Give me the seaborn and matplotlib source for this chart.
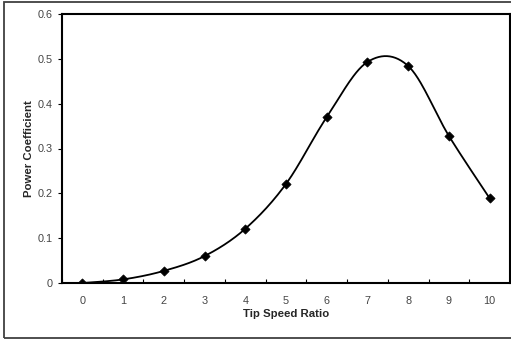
import numpy as np
import pandas as pd
import matplotlib
matplotlib.use("Agg")
import matplotlib.pyplot as plt
import seaborn as sns
from matplotlib.patches import Rectangle

# Data
tip_speed_ratio = [0, 1, 2, 3, 4, 5, 6, 7, 8, 9, 10]
power_coefficient = [0.0, 0.008, 0.027, 0.060, 0.121, 0.221, 0.370, 0.493, 0.484, 0.328, 0.189]
y_ticks = [0, 0.1, 0.2, 0.3, 0.4, 0.5, 0.6]
y_tick_labels = ["0", "0.1", "0.2", "0.3", "0.4", "0.5", "0.6"]


def smooth_line(x, y, steps=30):
    # Excel-style smoothed line: cubic Bezier with Catmull-Rom control points
    x = np.asarray(x, dtype=float)
    y = np.asarray(y, dtype=float)
    n = len(x)
    xs, ys = [], []
    t = np.linspace(0, 1, steps)
    for i in range(n - 1):
        p0 = np.array([x[max(i - 1, 0)], y[max(i - 1, 0)]])
        p1 = np.array([x[i], y[i]])
        p2 = np.array([x[i + 1], y[i + 1]])
        p3 = np.array([x[min(i + 2, n - 1)], y[min(i + 2, n - 1)]])
        c1 = p1 + (p2 - p0) / 6.0
        c2 = p2 - (p3 - p1) / 6.0
        pts = ((1 - t) ** 3)[:, None] * p1 + (3 * (1 - t) ** 2 * t)[:, None] * c1 \
            + (3 * (1 - t) * t ** 2)[:, None] * c2 + (t ** 3)[:, None] * p2
        xs.extend(pts[:, 0])
        ys.extend(pts[:, 1])
    return xs, ys


sns.set_theme(style="white")
plt.rcParams['font.family'] = ['Liberation Sans', 'DejaVu Sans']

df = pd.DataFrame({"tsr": tip_speed_ratio, "cp": power_coefficient})
sx, sy = smooth_line(df["tsr"], df["cp"])
curve = pd.DataFrame({"tsr": sx, "cp": sy})

fig = plt.figure(figsize=(5.11, 3.39), dpi=100)
fig.patch.set_facecolor("white")
ax = fig.add_axes([62 / 511, 1 - 283 / 339, 448 / 511, 269 / 339])

# outer chart border (right side cut off like the reference)
fig.patches.append(Rectangle((4 / 511, 1.5 / 339), 1.2, 335.5 / 339,
                             transform=fig.transFigure, fill=False,
                             edgecolor="#404040", linewidth=1.3))

sns.lineplot(data=curve, x="tsr", y="cp", ax=ax, color="black", linewidth=1.3,
             sort=False, estimator=None)
sns.scatterplot(data=df, x="tsr", y="cp", ax=ax, color="black", marker="D",
                s=22, edgecolor="black", linewidth=0.5, zorder=3)

ax.set_xlim(-0.5, 10.5)
ax.set_ylim(0, 0.6)
ax.set_xticks(tip_speed_ratio)
ax.set_xticklabels([str(v) for v in tip_speed_ratio])
ax.set_xticks(np.arange(-0.5, 10.6, 1.0), minor=True)
ax.set_yticks(y_ticks)
ax.set_yticklabels(y_tick_labels)

ax.tick_params(axis="x", which="major", length=0, pad=9, labelsize=7.8, labelcolor="#444444")
ax.tick_params(axis="x", which="minor", direction="in", length=3, width=0.8,
               color="black", bottom=True)
ax.tick_params(axis="y", which="major", direction="out", length=3, width=0.8,
               color="black", left=True, pad=3.5, labelsize=7.8, labelcolor="#444444")

for side in ["left", "bottom", "top", "right"]:
    ax.spines[side].set_visible(True)
    ax.spines[side].set_color("black")
    ax.spines[side].set_linewidth(1.5)

ax.set_xlabel("Tip Speed Ratio", fontsize=8.2, fontweight="bold", labelpad=2.5)
ax.set_ylabel("Power Coefficient", fontsize=8.2, fontweight="bold", labelpad=3)
ax.grid(False)

fig.savefig("out.png", dpi=100)
